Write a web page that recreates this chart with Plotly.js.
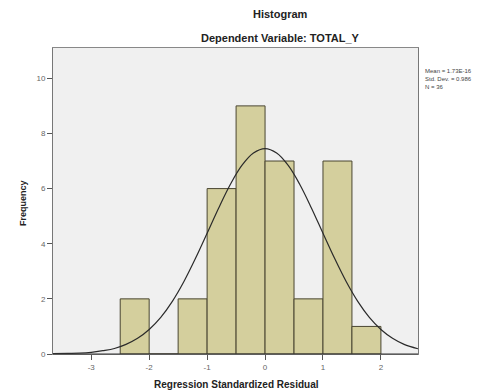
<!DOCTYPE html>
<html>
<head>
<meta charset="utf-8">
<script src="https://cdn.plot.ly/plotly-3.0.1.min.js"></script>
<style>html,body{margin:0;padding:0;background:#fff;}#chart{width:501px;height:391px;}</style>
</head>
<body>
<div id="chart"></div>
<script>
// Histogram bins (centers) and frequencies
const binCenters = [-2.25, -1.75, -1.25, -0.75, -0.25, 0.25, 0.75, 1.25, 1.75];
const frequencies = [2, 0, 2, 6, 9, 7, 2, 7, 1];
const binWidth = 0.5;

// Normal curve points
const curveX = [-3.66, -3.4, -3.2, -3.0, -2.8, -2.6, -2.4, -2.2, -2.0, -1.8, -1.6, -1.4, -1.2, -1.0, -0.8, -0.6, -0.4, -0.2, 0, 0.2, 0.4, 0.6, 0.8, 1.0, 1.2, 1.4, 1.6, 1.8, 2.0, 2.2, 2.4, 2.64];
const curveY = [0.01, 0.02, 0.03, 0.06, 0.12, 0.2, 0.35, 0.57, 0.89, 1.33, 1.91, 2.63, 3.47, 4.38, 5.3, 6.15, 6.84, 7.29, 7.45, 7.29, 6.84, 6.15, 5.3, 4.38, 3.47, 2.63, 1.91, 1.33, 0.89, 0.57, 0.35, 0.19];

const xTicks = [-3, -2, -1, 0, 1, 2];
const yTicks = [0, 2, 4, 6, 8, 10];
const statsLines = ["Mean = 1.73E-16", "Std. Dev. = 0.986", "N = 36"];

const traces = [
  {
    type: 'bar', x: binCenters, y: frequencies, width: binWidth,
    marker: {color: '#d4cf9d', line: {color: '#4a4631', width: 1}},
    hoverinfo: 'skip'
  },
  {
    type: 'scatter', mode: 'lines', x: curveX, y: curveY,
    line: {color: '#2a2a2a', width: 1.2, shape: 'spline'},
    hoverinfo: 'skip'
  }
];

const axisFont = {family: 'Liberation Sans, Arial, sans-serif', size: 8, color: '#666'};
const layout = {
  width: 501, height: 391,
  margin: {l: 53, r: 83, t: 48, b: 37},
  paper_bgcolor: '#ffffff',
  plot_bgcolor: '#f0f0f0',
  showlegend: false,
  bargap: 0,
  xaxis: {
    range: [-3.66, 2.64], tickvals: xTicks, ticktext: xTicks.map(String),
    ticks: 'outside', ticklen: 5, tickcolor: '#555', tickfont: axisFont,
    showgrid: false, zeroline: false,
    showline: true, linecolor: '#888', linewidth: 1, mirror: true
  },
  yaxis: {
    range: [0, 11.1], tickvals: yTicks, ticktext: yTicks.map(String),
    ticks: 'outside', ticklen: 5, tickcolor: '#555', tickfont: axisFont,
    showgrid: false, zeroline: false,
    showline: true, linecolor: '#777', linewidth: 1, mirror: true
  },
  shapes: [
    {type: 'line', xref: 'paper', yref: 'paper', x0: 0, x1: 1, y0: 0, y1: 0, line: {color: '#333', width: 1.2}}
  ],
  annotations: [
    {text: '<b>Histogram</b>', xref: 'paper', yref: 'paper', x: (280-53)/365, y: 1 + (48-14)/306, xanchor: 'center', yanchor: 'middle', showarrow: false, font: {family: 'Liberation Sans, Arial, sans-serif', size: 11, color: '#222'}},
    {text: '<b>Dependent Variable: TOTAL_Y</b>', xref: 'paper', yref: 'paper', x: (280-53)/365, y: 1 + (48-38)/306, xanchor: 'center', yanchor: 'middle', showarrow: false, font: {family: 'Liberation Sans, Arial, sans-serif', size: 11, color: '#222'}},
    {text: '<b>Regression Standardized Residual</b>', xref: 'paper', yref: 'paper', x: (236-53)/365, y: -(384-354)/306, xanchor: 'center', yanchor: 'middle', showarrow: false, font: {family: 'Liberation Sans, Arial, sans-serif', size: 10, color: '#222'}},
    {text: '<b>Frequency</b>', xref: 'paper', yref: 'paper', x: -(53-23)/365, y: (354-203)/306, xanchor: 'center', yanchor: 'middle', textangle: -90, showarrow: false, font: {family: 'Liberation Sans, Arial, sans-serif', size: 9, color: '#222'}},
    {text: statsLines.join('<br>'), xref: 'paper', yref: 'paper', x: (423-53)/365, y: (354-66)/306, xanchor: 'left', yanchor: 'top', align: 'left', showarrow: false, font: {family: 'Liberation Sans, Arial, sans-serif', size: 6, color: '#444'}}
  ]
};

Plotly.newPlot('chart', traces, layout, {displayModeBar: false, staticPlot: true});
</script>
</body>
</html>
